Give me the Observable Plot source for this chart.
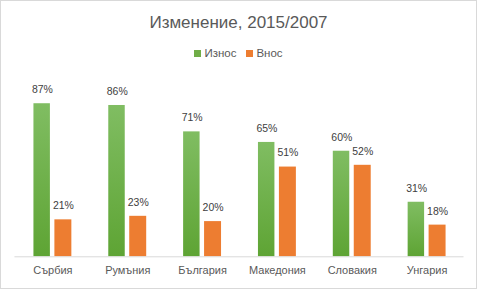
<!DOCTYPE html>
<html>
<head>
<meta charset="utf-8">
<script src="https://cdn.jsdelivr.net/npm/d3@7"></script>
<script src="https://cdn.jsdelivr.net/npm/@observablehq/plot@0.6"></script>
<style>
  html, body { margin: 0; padding: 0; background: #fff; }
  #chart { position: relative; width: 477px; height: 289px; box-sizing: border-box; border: 1px solid #d9d9d9; background: #fff; overflow: hidden; font-family: "Liberation Sans", Arial, sans-serif; }
  #title { position: absolute; left: 0; width: 475px; top: 12px; text-align: center; font-size: 17px; color: #595959; }
  #legend { position: absolute; left: 0; width: 475px; top: 46px; text-align: center; font-size: 11.5px; color: #595959; }
  #legend span.sw { display: inline-block; width: 7px; height: 7px; margin-right: 3px; vertical-align: 0px; }
  #legend span.item { margin: 0 5px; }
  #plot { position: absolute; left: -1px; top: 59px; }
</style>
</head>
<body>
<div id="chart">
  <div id="title">Изменение, 2015/2007</div>
  <div id="legend"></div>
  <div id="plot"></div>
</div>
<script>
const categories = ["Сърбия", "Румъния", "България", "Македония", "Словакия", "Унгария"];
const seriesNames = ["Износ", "Внос"];
const exportValues = [87, 86, 71, 65, 60, 31];
const importValues = [21, 23, 20, 51, 52, 18];
const seriesColors = ["#70ad47", "#ed7d31"];

const exportData = categories.map((c, i) => ({category: c, value: exportValues[i]}));
const importData = categories.map((c, i) => ({category: c, value: importValues[i]}));

// legend
const legend = document.getElementById("legend");
seriesNames.forEach((n, i) => {
  const item = document.createElement("span");
  item.className = "item";
  item.innerHTML = `<span class="sw" style="background:${seriesColors[i]}"></span>${n}`;
  legend.appendChild(item);
});

const chart = Plot.plot({
  width: 477,
  height: 230,
  marginLeft: 14.5,
  marginRight: 12.5,
  marginTop: 20.4,
  marginBottom: 33.3,
  style: {fontFamily: "'Liberation Sans', Arial, sans-serif", background: "transparent"},
  x: {domain: categories, padding: 0, label: null},
  y: {domain: [0, 100], axis: null},
  marks: [
    Plot.barY(exportData, {x: "category", y: "value", fill: "url(#gradGreen)", insetLeft: 18.5, insetRight: 40}),
    Plot.barY(importData, {x: "category", y: "value", fill: seriesColors[1], insetLeft: 39.5, insetRight: 18.5}),
    Plot.ruleY([0], {stroke: "#d9d9d9", strokeWidth: 1}),
    Plot.text(exportData, {x: "category", y: "value", text: d => d.value + "%", dx: -10.5, dy: -14, fill: "#404040", fontSize: 10.5}),
    Plot.text(importData, {x: "category", y: "value", text: d => d.value + "%", dx: 10.5, dy: -14, fill: "#404040", fontSize: 10.5}),
    Plot.axisX({tickSize: 0, tickPadding: 9, fontSize: 11, color: "#595959"})
  ]
});

// gradient defs for the green bars
const ns = "http://www.w3.org/2000/svg";
const defs = document.createElementNS(ns, "defs");
const lg = document.createElementNS(ns, "linearGradient");
lg.setAttribute("id", "gradGreen");
lg.setAttribute("x1", "0"); lg.setAttribute("y1", "0");
lg.setAttribute("x2", "0"); lg.setAttribute("y2", "1");
[["0%", "#80bd62"], ["100%", "#5ea434"]].forEach(([o, c]) => {
  const s = document.createElementNS(ns, "stop");
  s.setAttribute("offset", o);
  s.setAttribute("stop-color", c);
  lg.appendChild(s);
});
defs.appendChild(lg);
chart.insertBefore(defs, chart.firstChild);

document.getElementById("plot").appendChild(chart);
</script>
</body>
</html>
